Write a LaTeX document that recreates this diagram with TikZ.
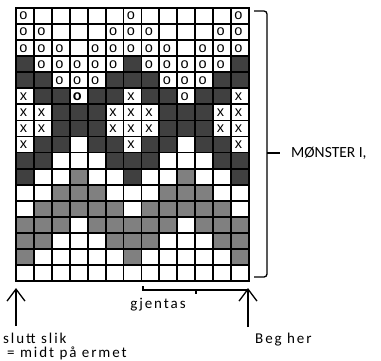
\documentclass[tikz,border=0pt]{standalone}
\usepackage{fontspec}
\setmainfont{Carlito}
\newfontfamily\cellfont{Liberation Sans}
\usetikzlibrary{arrows.meta, positioning}
\definecolor{dkcell}{HTML}{404040}
\definecolor{mdcell}{HTML}{808080}

% symbol drawn in a chart cell, by its code
\newcommand\cellmark[1]{\csname cm#1\endcsname}
\newcommand\cmo{o}
\newcommand\cmx{x}
\newcommand\cmb{\textbf{o}}
\newcommand\cmw{}
\newcommand\cmd{}
\newcommand\cmg{}

\begin{document}
\begin{tikzpicture}[
  x=1pt, y=-1pt,
  cell/.style={
    draw=black, line width=1.8pt, fill=white, inner sep=0pt, outer sep=0pt,
    minimum width=17.92pt, minimum height=16.06pt,
    font=\cellfont\fontsize{14.5}{14.5}\selectfont, text depth=0pt
  },
  cw/.style={}, co/.style={}, cx/.style={}, cb/.style={},
  cd/.style={fill=dkcell},
  cg/.style={fill=mdcell},
  arr/.style={-{Straight Barb[length=12pt, width=18pt]}, line width=1.3pt},
  lbl/.style={font=\fontsize{15.5}{15.5}\selectfont, inner sep=0pt},
  spaced/.style={font=\fontsize{15}{15}\selectfont\addfontfeatures{LetterSpace=13}},
]

\useasboundingbox (0,0) rectangle (381,360);

% =============================================
% Chart: 13 stitches x 17 rows
% =============================================
\foreach \line [count=\r] in {
  {o,w,w,w,w,w,o,w,w,w,w,w,o},
  {o,o,w,w,w,o,o,o,w,w,w,o,o},
  {o,o,o,w,o,o,o,o,o,w,o,o,o},
  {d,o,o,o,o,o,d,o,o,o,o,o,d},
  {d,d,o,o,o,d,d,d,o,o,o,d,d},
  {x,d,d,b,d,d,x,d,d,o,d,d,x},
  {x,x,d,d,d,x,x,x,d,d,d,x,x},
  {x,x,d,d,d,x,x,x,d,d,d,x,x},
  {x,d,d,w,d,d,x,d,d,w,d,d,x},
  {d,d,w,w,w,d,d,d,w,w,w,d,d},
  {d,w,w,g,w,w,d,w,w,g,w,w,d},
  {w,w,g,g,g,w,w,w,g,g,g,w,w},
  {w,g,g,g,g,g,w,g,g,g,g,g,w},
  {g,g,g,w,g,g,g,g,g,w,g,g,g},
  {g,g,w,w,w,g,g,g,w,w,w,g,g},
  {g,w,w,w,w,w,g,w,w,w,w,w,g},
  {w,w,w,w,w,w,w,w,w,w,w,w,w}}
{
  \foreach \c [count=\k] in \line {
    \node[cell, c\c] (c-\r-\k) at ({16+(\k-0.5)*17.92}, {8+(\r-0.5)*16.06})
      {\hspace{-3pt}\cellmark{\c}};
  }
}

% =============================================
% Brace and label on the right
% =============================================
\coordinate (braceTop) at (254,11);
\coordinate (braceBot) at (254,277);
\coordinate (braceMid) at (267,153);
\coordinate (braceTip) at (280,153);
\draw[line width=1.3pt, rounded corners=3pt] (braceTop) -| (braceMid) |- (braceBot);
\draw[line width=1.3pt] (braceMid) -- (braceTip);
\node[lbl, right=11pt of braceTip] (monster) {MØNSTER I,};

% =============================================
% Repeat bracket below the chart
% =============================================
\coordinate (repStart) at (143,286);
\coordinate (repEnd) at (248,290);
\coordinate (repMid) at (196,290);
\coordinate (repTick) at (196,294);
\draw[line width=1.3pt] (repStart) |- (repEnd);
\draw[line width=1.3pt] (repMid) -- (repTick);
\node[lbl, spaced] (gjentas) at (158,305) {gjentas};

% =============================================
% Arrows and notes
% =============================================
\coordinate (endBase) at (16,326);
\coordinate (endTip) at (16,288);
\coordinate (begBase) at (248,327);
\coordinate (begTip) at (248,288);
\draw[arr] (endBase) -- (endTip);
\draw[arr] (begBase) -- (begTip);

\node[lbl, spaced, anchor=base west] (slutt) at (3,343.5) {slutt slik};
\node[lbl, spaced, anchor=base west] (midt) at (7,357.5) {= midt på ermet};
\node[lbl, spaced, anchor=base west] (beg) at (255,343.5) {Beg her};

\end{tikzpicture}
\end{document}
